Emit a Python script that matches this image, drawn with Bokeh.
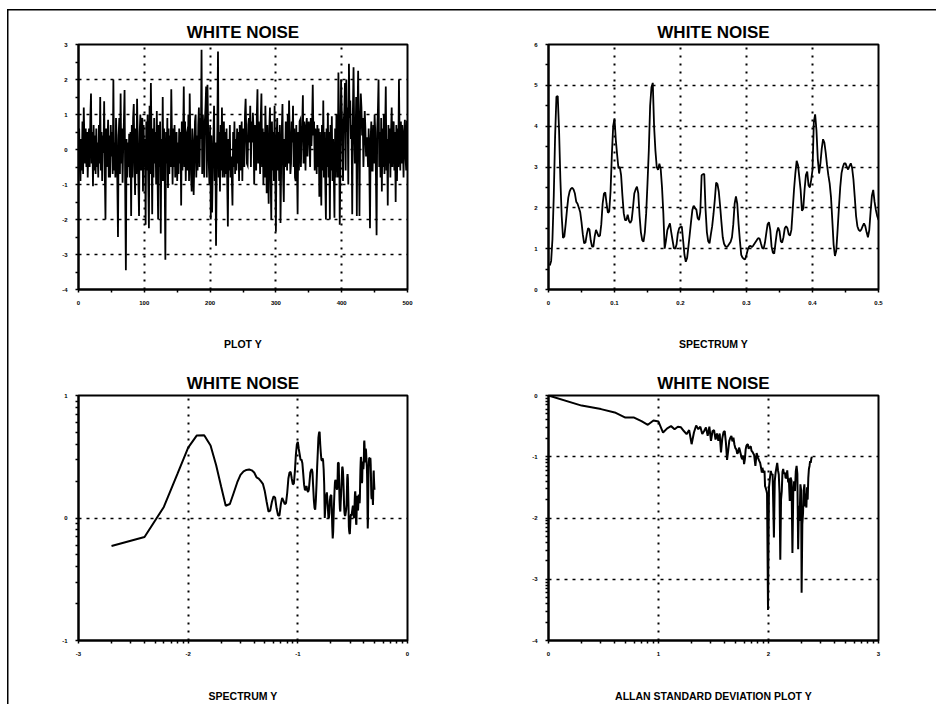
import math
import numpy as np
from bokeh.plotting import figure
from bokeh.layouts import gridplot
from bokeh.models import FixedTicker, Range1d
from bokeh.embed import file_html
from bokeh.resources import INLINE

TITLE = "WHITE NOISE"

# ---------------- data ----------------
# Panel 1: run sequence of the white-noise series (index 1..500)
NOISE_Y = [
    0.6, -0.5, -0.9, 0.3, -0.6, 0.8, -0.7, 1.2, 0.2, -0.4, 0.6, -0.5, 0.5, -0.8, 0.1, 0.6, -0.5, 0.9, 1.6, -0.4,
    0.5, -1.05, 0.7, -0.6, 0.4, -0.7, 0.6, -0.5, 0.2, -0.8, 0.7, -0.4, 1.5, -0.6, 0.5, -0.9, 0.4, -0.1, 1.38, -0.7,
    -2.0, 0.6, -0.5, 0.2, 0.85, -0.8, 0.4, -0.8, 0.7, -0.2, 0.5, -0.7, 2.0, -0.6, 0.2, -0.8, 0.9, 0.3, -0.9, -2.5,
    0.4, 0.9, -0.7, 1.6, -0.4, 0.6, -0.95, 0.2, 0.8, 1.7, -1.2, -3.45, 0.3, -0.8, 0.2, -0.5, 0.45, -0.8, 0.5, -1.9,
    0.7, -0.8, 0.9, 1.3, -0.4, -1.3, 0.6, -0.7, 1.45, 0.3, -0.9, -1.9, 0.5, 1.0, -0.6, 0.8, 0.9, -1.2, 0.7, -0.5,
    0.3, -2.15, 0.8, -0.6, 1.0, -0.9, -2.25, 1.25, -0.7, 1.9, 0.2, -1.85, 0.6, -0.8, 0.9, -0.4, 0.5, -1.0, 1.1, -0.6,
    -2.0, 0.7, -0.5, 0.8, -2.4, 0.3, -0.9, 1.5, -0.9, 0.6, -0.8, -3.15, 0.5, -0.4, 0.9, -1.1, 0.6, -0.7, 0.4, -0.5,
    1.72, 0.4, -1.0, 0.6, -0.5, 0.7, -0.8, 0.3, 0.5, -0.9, 0.2, -0.7, 0.6, -0.4, 0.5, -1.6, 0.8, -0.6, 0.3, 1.8,
    -0.5, 0.8, -0.9, 0.4, 0.5, -0.6, 1.0, -0.9, 1.6, 0.3, -0.7, -1.2, 0.6, 0.2, -1.3, -0.4, 0.8, 1.0, -0.8, 0.4,
    -0.6, 0.7, 1.2, -0.5, 0.9, 0.3, 2.85, -0.7, 1.0, 0.4, -0.8, 0.8, 1.2, 1.8, -0.8, 1.85, 0.6, -0.4, -1.0, 0.7,
    -2.0, 0.4, -1.8, -0.6, 0.3, 1.25, -0.9, 0.2, -2.75, -0.8, 0.6, 2.8, -0.8, 0.5, -1.2, 0.7, -0.6, 1.2, -0.8, 0.3,
    0.8, -0.8, 0.5, -0.7, 0.6, -0.9, -2.2, 0.3, -0.6, 0.7, -0.8, -0.2, -0.8, -1.6, 0.5, -0.5, 0.8, -0.7, 0.3, -0.6,
    0.6, -0.4, 0.5, -0.9, 0.7, -0.6, 0.2, 0.8, -0.9, 0.6, 0.3, -0.5, 1.0, 1.45, 0.4, -0.4, -0.45, 0.7, 0.9, 0.2,
    1.25, -0.5, 0.8, 0.2, 1.05, 0.6, -1.0, 0.7, 0.3, -0.6, 1.0, 1.72, -0.4, 0.8, 0.35, -0.7, 0.9, 1.6, -0.5, 0.6,
    -1.0, 0.5, -0.8, 1.25, 0.3, -1.25, 0.7, -0.5, -1.55, 0.6, 1.2, -0.8, -2.0, 0.8, -0.6, 0.5, -0.9, 1.25, -0.7, -2.35,
    0.3, 0.9, -0.6, 0.5, -0.9, 0.7, -2.1, -0.5, 0.6, 1.3, -0.8, -1.5, 0.3, -0.5, 0.8, 0.5, -0.6, 1.0, -0.4, 1.4,
    0.5, -0.7, -0.4, 0.8, 0.2, 1.25, -0.5, 0.6, -0.8, -0.9, 0.7, -0.4, -1.85, 0.5, -0.6, 0.8, 0.85, -0.5, 0.3, 0.7,
    1.55, -0.4, 0.8, 0.3, -0.6, 0.7, 0.9, -0.2, 0.6, 0.8, 0.3, -0.5, 0.9, 0.1, 0.7, 1.85, 0.4, 0.8, -0.6, 0.6,
    0.3, -0.7, 0.7, -0.5, 0.6, -1.35, 0.5, -0.4, -1.6, 0.7, -0.6, 1.4, -0.8, 0.5, -0.9, -2.0, 0.6, -0.5, 1.05, -0.8,
    0.5, -2.0, 0.7, -0.6, 0.95, -0.9, 0.3, -0.7, -1.95, 0.6, -0.8, 1.0, 0.4, -0.8, 2.2, 0.8, -2.15, -0.7, 2.0, 1.2,
    0.4, -0.9, 0.8, 1.1, 1.9, -0.6, 2.0, 0.5, 1.2, -1.0, 2.45, 0.9, 1.4, 0.3, 0.7, -1.85, 1.1, 2.35, 0.6, -0.4,
    0.2, 1.5, -1.9, 0.9, 2.25, 0.3, -1.9, 0.8, 1.6, 1.2, 0.4, 0.9, -0.5, 0.3, 1.1, 0.6, -0.2, 0.35, 0.1, -0.5,
    0.6, -0.5, -2.25, 0.3, 0.8, -0.6, -0.6, 0.7, -0.4, 1.0, 0.5, -0.7, -2.45, 0.6, 1.1, 2.0, -0.5, 0.5, -0.8, 0.9,
    -1.2, 0.6, -0.5, 1.0, -0.7, 0.5, 1.8, -0.6, 0.3, -1.6, 0.7, -0.4, 0.6, -0.8, 0.5, 1.2, -0.5, 0.7, 0.8, -0.6,
    0.5, -1.5, 0.7, -0.9, 0.6, -0.5, 2.0, 0.3, -0.6, 0.8, -0.4, 0.7, 0.2, -0.8, 0.5, 0.85, -0.2, -0.6, 0.8, 0.8,
]

# Panel 2/3: spectrum at frequencies 0.002, 0.004, ..., 0.500
FREQ_STEP = 0.002
SPEC_Y = [
    0.59, 0.70, 1.23, 2.30, 3.75, 4.72, 4.74, 3.90, 2.70, 1.80,
    1.26, 1.30, 1.60, 1.95, 2.25, 2.40, 2.47, 2.49, 2.45, 2.35,
    2.15, 2.10, 2.00, 1.90, 1.65, 1.35, 1.13, 1.15, 1.35, 1.50,
    1.47, 1.20, 1.05, 1.05, 1.30, 1.46, 1.38, 1.30, 1.32, 1.60,
    2.10, 2.35, 2.38, 2.10, 1.88, 1.91, 2.40, 3.30, 4.00, 4.19,
    3.66, 3.30, 2.97, 3.00, 2.80, 2.30, 1.87, 1.70, 1.70, 1.83,
    1.68, 1.63, 1.70, 2.00, 2.35, 2.45, 2.52, 2.36, 1.80, 1.40,
    1.21, 1.17, 1.40, 1.87, 2.60, 3.41, 4.50, 4.95, 5.06, 3.99,
    3.40, 3.00, 2.93, 3.08, 2.95, 2.50, 1.87, 1.00, 1.20, 1.45,
    1.54, 1.62, 1.40, 1.20, 1.01, 1.00, 1.10, 1.38, 1.50, 1.53,
    1.54, 1.20, 0.85, 0.68, 0.77, 1.05, 1.35, 1.66, 1.95, 2.05,
    1.99, 1.96, 1.75, 1.70, 1.90, 2.80, 2.82, 2.83, 1.95, 1.40,
    1.18, 1.13, 1.35, 1.55, 1.85, 2.20, 2.62, 2.58, 2.40, 2.05,
    1.65, 1.28, 1.12, 1.06, 1.04, 1.07, 1.12, 1.17, 1.28, 1.60,
    2.10, 2.28, 2.10, 1.60, 1.20, 0.85, 0.78, 0.75, 0.74, 0.85,
    0.98, 1.05, 1.07, 1.04, 1.07, 1.12, 1.17, 1.22, 1.26, 1.24,
    1.12, 1.01, 1.00, 1.15, 1.38, 1.60, 1.65, 1.46, 1.05, 0.90,
    0.88, 1.15, 1.40, 1.52, 1.43, 1.18, 1.15, 1.28, 1.50, 1.55,
    1.50, 1.35, 1.32, 1.46, 1.95, 2.45, 2.84, 3.15, 3.05, 2.75,
    2.44, 1.93, 1.98, 2.45, 2.80, 2.89, 2.55, 2.50, 2.68, 2.93,
    4.10, 4.29, 3.90, 3.20, 2.84, 3.09, 3.45, 3.68, 3.60, 3.35,
    3.05, 2.80, 2.60, 2.27, 1.70, 1.10, 0.82, 0.95, 1.45, 2.00,
    2.50, 2.85, 3.00, 3.09, 3.09, 3.00, 2.94, 3.02, 3.09, 2.98,
    2.70, 2.27, 1.80, 1.55, 1.46, 1.43, 1.47, 1.55, 1.62, 1.55,
    1.40, 1.28, 1.45, 1.90, 2.30, 2.44, 2.15, 1.95, 1.80, 1.70,
]

# Panel 4: Allan standard deviation, averaging time tau and log10(ASD)
ALLAN_TAU = [
    1, 2, 3, 4, 5, 6, 7, 8, 9, 10, 11, 12, 13, 14, 15, 16, 17, 18, 19, 20,
    21, 22, 23, 24, 25, 26, 27, 28, 29, 30, 31, 32, 33, 34, 35, 36, 37, 38, 39, 40,
    41, 42, 43, 44, 45, 46, 47, 48, 49, 50, 51, 52, 53, 54, 55, 56, 57, 58, 59, 60,
    61, 62, 63, 64, 65, 66, 67, 68, 69, 70, 72, 74, 76, 78, 80, 82, 84, 86, 87, 88,
    90, 92, 93, 94, 96, 97, 99, 101, 103, 105, 107, 109, 112, 114, 116, 118, 120, 122, 124, 126,
    128, 130, 132, 134, 136, 138, 141, 143, 146, 148, 151, 153, 156, 159, 162, 165, 168, 171, 174, 177,
    180, 183, 186, 189, 192, 195, 198, 200, 203, 206, 209, 212, 215, 218, 221, 224, 227, 230, 233, 236,
    239, 242, 245, 248,
]
ALLAN_LOG = [
    0.0, -0.165, -0.222, -0.277, -0.36, -0.36, -0.418, -0.478, -0.408, -0.425,
    -0.605, -0.536, -0.50, -0.55, -0.51, -0.52, -0.58, -0.63, -0.565, -0.795,
    -0.605, -0.49, -0.55, -0.51, -0.63, -0.58, -0.52, -0.66, -0.51, -0.74,
    -0.58, -0.566, -0.72, -0.62, -0.74, -0.62, -0.93, -0.70, -0.60, -0.58,
    -0.77, -1.05, -0.90, -0.74, -0.69, -0.66, -0.75, -0.69, -0.80, -0.86,
    -0.88, -0.95, -0.93, -0.85, -0.90, -0.96, -1.02, -1.04, -0.98, -1.12,
    -1.04, -0.88, -0.82, -0.80, -0.80, -0.87, -0.85, -0.84, -0.83, -0.90,
    -0.93, -0.97, -1.15, -0.94, -1.01, -1.06, -1.10, -1.20, -1.26, -1.18,
    -1.26, -1.23, -1.48, -1.50, -1.56, -1.60, -3.50, -1.50, -1.35, -1.23,
    -1.30, -1.28, -2.32, -1.40, -1.26, -1.18, -1.10, -1.22, -1.29, -1.60,
    -2.68, -1.70, -1.56, -1.25, -1.20, -1.28, -1.26, -1.35, -1.34, -1.22,
    -1.42, -1.35, -1.72, -1.34, -1.40, -2.57, -1.56, -1.40, -1.56, -1.24,
    -1.15, -1.28, -2.51, -1.80, -2.05, -1.45, -1.55, -3.22, -2.10, -1.92,
    -1.55, -1.45, -1.81, -1.60, -1.83, -1.50, -1.70, -1.35, -1.20, -1.15,
    -1.07, -1.10, -1.03, -1.00,
]

# Axis ticks and labels
NOISE_XTICKS = [0, 100, 200, 300, 400, 500]
NOISE_XLABELS = ["0", "100", "200", "300", "400", "500"]
NOISE_YTICKS = [-4, -3, -2, -1, 0, 1, 2, 3]
NOISE_YLABELS = ["-4", "-3", "-2", "-1", "0", "1", "2", "3"]
SPEC_XTICKS = [0, 0.1, 0.2, 0.3, 0.4, 0.5]
SPEC_XLABELS = ["0", "0.1", "0.2", "0.3", "0.4", "0.5"]
SPEC_YTICKS = [0, 1, 2, 3, 4, 5, 6]
SPEC_YLABELS = ["0", "1", "2", "3", "4", "5", "6"]
LSPEC_XTICKS = [-3, -2, -1, 0]
LSPEC_XLABELS = ["-3", "-2", "-1", "0"]
LSPEC_YTICKS = [-1, 0, 1]
LSPEC_YLABELS = ["-1", "0", "1"]
ALLAN_XTICKS = [0, 1, 2, 3]
ALLAN_XLABELS = ["0", "1", "2", "3"]
ALLAN_YTICKS = [-4, -3, -2, -1, 0]
ALLAN_YLABELS = ["-4", "-3", "-2", "-1", "0"]

XLABEL_1 = "PLOT Y"
XLABEL_2 = "SPECTRUM Y"
XLABEL_3 = "SPECTRUM Y"
XLABEL_4 = "ALLAN STANDARD DEVIATION PLOT Y"

FONT = "Liberation Sans"


def linear_minor(ticks):
    return [(a + b) / 2 for a, b in zip(ticks[:-1], ticks[1:])]


def log_minor(ticks):
    out = []
    for d in ticks[:-1]:
        for k in range(2, 10):
            out.append(d + math.log10(k))
    return out


def make_fig(w, h, borders, xr, yr, xt, xl, xmin, yt, yl, ymin, xgrid, ygrid, xlabel, label_standoff):
    bl, br, bt, bb = borders
    p = figure(width=w, height=h, x_range=Range1d(*xr), y_range=Range1d(*yr),
               output_backend="svg", toolbar_location=None,
               min_border_left=bl, min_border_right=br,
               min_border_top=bt, min_border_bottom=bb)
    p.border_fill_color = None
    p.background_fill_color = "white"
    p.outline_line_color = "black"
    p.outline_line_width = 2

    p.title.text = TITLE
    p.title.align = "center"
    p.title.text_font = FONT
    p.title.text_font_style = "bold"
    p.title.text_font_size = "17px"
    p.title.text_color = "black"
    p.title.standoff = 5

    for ax, ticks, labels, minors in ((p.xaxis[0], xt, xl, xmin), (p.yaxis[0], yt, yl, ymin)):
        ax.ticker = FixedTicker(ticks=ticks, minor_ticks=minors)
        ax.major_label_overrides = {t: s for t, s in zip(ticks, labels)}
        ax.major_label_text_font = FONT
        ax.major_label_text_font_style = "bold"
        ax.major_label_text_font_size = "6px"
        ax.major_label_text_color = "black"
        ax.major_label_standoff = 8
        ax.axis_line_width = 2
        ax.axis_line_color = "black"
        ax.major_tick_in = 0
        ax.major_tick_out = 3
        ax.minor_tick_in = 0
        ax.minor_tick_out = 3
        ax.major_tick_line_width = 1.5
        ax.minor_tick_line_width = 1.5
        ax.major_tick_line_color = "black"
        ax.minor_tick_line_color = "black"

    p.xaxis.axis_label = xlabel
    p.xaxis.axis_label_text_font = FONT
    p.xaxis.axis_label_text_font_style = "bold"
    p.xaxis.axis_label_text_font_size = "10.5px"
    p.xaxis.axis_label_text_color = "black"
    p.xaxis.axis_label_standoff = label_standoff

    p.xgrid.ticker = FixedTicker(ticks=xgrid)
    p.xgrid.grid_line_color = "black"
    p.xgrid.grid_line_width = 2
    p.xgrid.grid_line_dash = "2 6"
    p.ygrid.ticker = FixedTicker(ticks=ygrid)
    p.ygrid.grid_line_color = "black"
    p.ygrid.grid_line_width = 1.5
    p.ygrid.grid_line_dash = "3 5"
    return p


# derived coordinates
noise_x = np.arange(1, len(NOISE_Y) + 1)
freq = FREQ_STEP * np.arange(1, len(SPEC_Y) + 1)
spec = np.array(SPEC_Y)
log_freq = np.log10(freq)
log_spec = np.log10(spec)
log_tau = np.log10(np.array(ALLAN_TAU, dtype=float))

p1 = make_fig(468, 352, (78, 61, 44, 62), (0, 500), (-4, 3),
              NOISE_XTICKS, NOISE_XLABELS, linear_minor(NOISE_XTICKS),
              NOISE_YTICKS, NOISE_YLABELS, linear_minor(NOISE_YTICKS),
              NOISE_XTICKS[1:-1], NOISE_YTICKS[1:-1], XLABEL_1, 30)
p1.line(noise_x, NOISE_Y, line_color="black", line_width=1.8, line_join="miter")

p2 = make_fig(468, 352, (80, 58, 44, 62), (0, 0.5), (0, 6),
              SPEC_XTICKS, SPEC_XLABELS, linear_minor(SPEC_XTICKS),
              SPEC_YTICKS, SPEC_YLABELS, linear_minor(SPEC_YTICKS),
              SPEC_XTICKS[1:-1], SPEC_YTICKS[1:-1], XLABEL_2, 30)
p2.line(freq, spec, line_color="black", line_width=1.8)

p3 = make_fig(468, 352, (78, 61, 43, 64), (-3, 0), (-1, 1),
              LSPEC_XTICKS, LSPEC_XLABELS, log_minor(LSPEC_XTICKS),
              LSPEC_YTICKS, LSPEC_YLABELS, log_minor(LSPEC_YTICKS),
              LSPEC_XTICKS[1:-1], LSPEC_YTICKS[1:-1], XLABEL_3, 31)
p3.line(log_freq, log_spec, line_color="black", line_width=2)

p4 = make_fig(468, 352, (80, 58, 43, 64), (0, 3), (-4, 0),
              ALLAN_XTICKS, ALLAN_XLABELS, log_minor(ALLAN_XTICKS),
              ALLAN_YTICKS, ALLAN_YLABELS, log_minor(ALLAN_YTICKS),
              ALLAN_XTICKS[1:-1], ALLAN_YTICKS[1:-1], XLABEL_4, 31)
p4.line(log_tau, ALLAN_LOG, line_color="black", line_width=2)

grid = gridplot([[p1, p2], [p3, p4]], toolbar_location=None)
grid.styles = {
    "background-image": "linear-gradient(#000, #000), linear-gradient(#000, #000)",
    "background-size": "1.5px 100%, 100% 1.5px",
    "background-position": "7px 9px, 7px 9px",
    "background-repeat": "no-repeat",
}

open("out.html", "w").write(file_html(grid, INLINE))
